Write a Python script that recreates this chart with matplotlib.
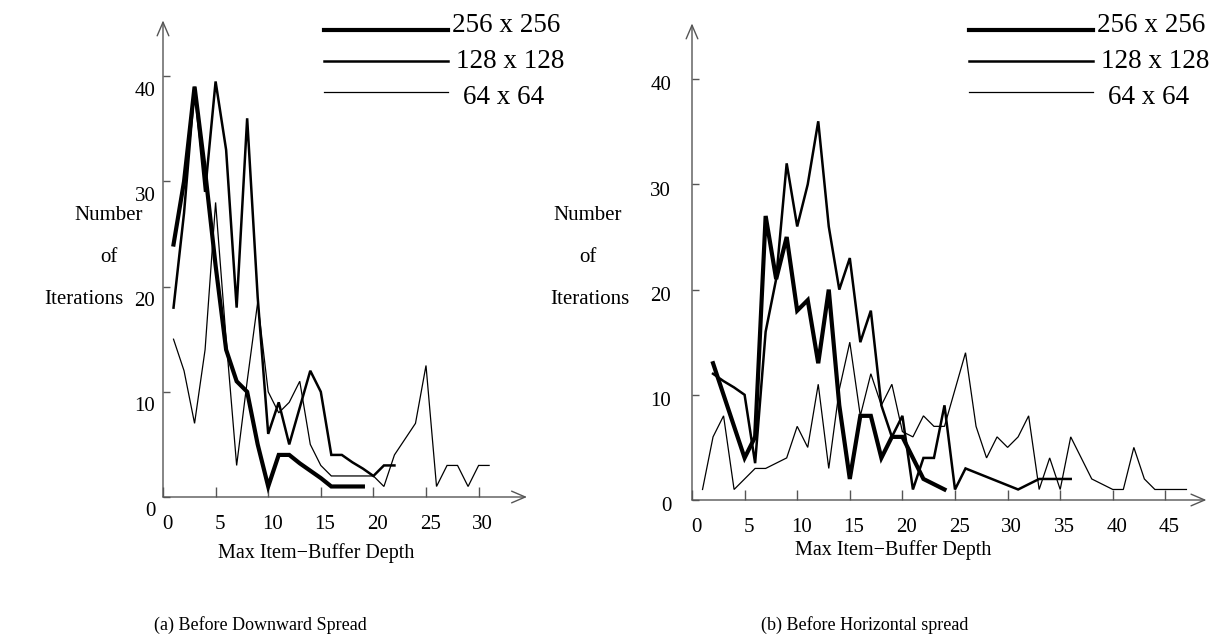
import matplotlib
matplotlib.use("Agg")
import matplotlib.pyplot as plt
from matplotlib.lines import Line2D
from matplotlib.transforms import ScaledTranslation

plt.rcParams['font.family'] = ['Liberation Serif', 'DejaVu Serif']

# (a) Before Downward Spread
x256_a = [1, 2, 3, 4, 5, 6, 7, 8, 9, 10, 11, 12, 13, 14, 15, 16, 17, 18, 19]
y256_a = [24, 30, 39, 31, 22, 14, 11, 10, 5, 1, 4, 4, 3.2, 2.5, 1.8, 1, 1, 1, 1]
x128_a = [1, 2, 3, 4, 5, 6, 7, 8, 9, 10, 11, 12, 13, 14, 15, 16, 17, 18, 19, 20, 21, 22]
y128_a = [18, 27, 39, 29, 39.5, 33, 18, 36, 19, 6, 9, 5, 8.5, 12, 10, 4, 4, 3.3, 2.7, 2, 3, 3]
x64_a = list(range(1, 32))
y64_a = [15, 12, 7, 14, 28, 15, 3, 11, 18.5, 10, 8, 9, 11, 5, 3, 2, 2, 2, 2, 2,
         1, 4, 5.5, 7, 12.5, 1, 3, 3, 1, 3, 3]

# (b) Before Horizontal spread
x256_b = list(range(2, 25))
y256_b = [13, 10, 7, 4, 6, 27, 21, 25, 18, 19, 13, 20, 9, 2, 8, 8, 4, 6, 6, 4, 2, 1.5, 1]
x128_b = list(range(2, 37))
y128_b = [12, 11.3, 10.7, 10, 3.5, 16, 21, 32, 26, 30, 36, 26, 20, 23, 15, 18, 9, 6,
          8, 1, 4, 4, 9, 1, 3, 2.6, 2.2, 1.8, 1.4, 1, 1.5, 2, 2, 2, 2]
x64_b = list(range(1, 48))
y64_b = [1, 6, 8, 1, 2, 3, 3, 3.5, 4, 7, 5, 11, 3, 10.5, 15, 8, 12, 9, 11, 6.5,
         6, 8, 7, 7, 10.5, 14, 7, 4, 6, 5, 6, 8, 1, 4, 1, 6, 4, 2, 1.5, 1,
         1, 5, 2, 1, 1, 1, 1]

labels = ['256 x 256', '128 x 128', '64 x 64']
widths = [3.0, 1.8, 0.9]

yticks = [0, 10, 20, 30, 40]
xticks_a = [0, 5, 10, 15, 20, 25, 30]
xticks_b = [0, 5, 10, 15, 20, 25, 30, 35, 40, 45]

W, H = 1211, 639
scale = 10.52  # pixels per unit, both axes
fig = plt.figure(figsize=(W / 100, H / 100), dpi=100)
axis_col = '#555555'


def make_axes(left, bottom, xmax):
    ax = fig.add_axes([left / W, (H - bottom) / H, xmax * scale / W, 45.5 * scale / H])
    ax.set_xlim(0, xmax)
    ax.set_ylim(0, 45.5)
    for s in ax.spines.values():
        s.set_visible(False)
    return ax


def decorate(ax, xticks, xarrow, ypad, ydrop):
    # axes drawn as arrows
    arrow = dict(arrowstyle='->,head_length=0.7,head_width=0.3', color=axis_col,
                 lw=1, shrinkA=0, shrinkB=0, mutation_scale=14)
    ax.annotate('', xy=(xarrow, 0), xytext=(0, 0), annotation_clip=False, arrowprops=arrow)
    ax.annotate('', xy=(0, 45.3), xytext=(0, 0), annotation_clip=False, arrowprops=arrow)
    ax.set_xticks(xticks)
    ax.set_xticklabels([str(t) for t in xticks])
    ax.set_yticks(yticks)
    ax.set_yticklabels([str(t) for t in yticks])
    ax.tick_params(axis='x', direction='in', length=7, width=1, color=axis_col,
                   labelsize=15, pad=13)
    ax.tick_params(axis='y', direction='in', length=5, width=1, color=axis_col,
                   labelsize=15, pad=ypad)
    # the labels sit a little off their tick marks in the original
    for lab in ax.get_yticklabels():
        lab.set_transform(lab.get_transform() + ScaledTranslation(0, -ydrop / 72, fig.dpi_scale_trans))
    for lab in ax.get_xticklabels():
        lab.set_transform(lab.get_transform() + ScaledTranslation(3 / 72, 0, fig.dpi_scale_trans))


ax1 = make_axes(163, 497, 35)
ax2 = make_axes(692, 500, 49)

for ax, series in [(ax1, [(x256_a, y256_a), (x128_a, y128_a), (x64_a, y64_a)]),
                   (ax2, [(x256_b, y256_b), (x128_b, y128_b), (x64_b, y64_b)])]:
    for (xs, ys), lw in zip(series, widths):
        ax.plot(xs, ys, color='black', lw=lw, solid_joinstyle='miter', clip_on=False)

decorate(ax1, xticks_a, 34.6, 5.5, 9)
decorate(ax2, xticks_b, 48.9, 15, 3)

# legends, drawn by hand
line_y = [30, 61, 92]
text_y = [26, 61.5, 97]
text_x = [452, 456, 463]
for dx in [0, 645]:
    for i, (lab, lw) in enumerate(zip(labels, widths)):
        fig.add_artist(Line2D([(324 + dx) / W, (448 + dx) / W],
                              [1 - line_y[i] / H, 1 - line_y[i] / H],
                              color='black', lw=lw))
        fig.text((text_x[i] + dx) / W, 1 - text_y[i] / H, lab, fontsize=19.5,
                 va='center', ha='left')

# y-axis titles
for cx, cx2 in [(109, 84), (588, 590)]:
    fig.text(cx / W, 1 - 215 / H, 'Number', fontsize=15, ha='center', va='center')
    fig.text(cx / W, 1 - 257 / H, 'of', fontsize=15, ha='center', va='center')
    fig.text(cx2 / W, 1 - 300 / H, 'Iterations', fontsize=15, ha='center', va='center')

fig.text(316 / W, 1 - 553 / H, 'Max Item\u2212Buffer Depth', fontsize=14.5, ha='center', va='center')
fig.text(893 / W, 1 - 550 / H, 'Max Item\u2212Buffer Depth', fontsize=14.5, ha='center', va='center')

fig.text(260 / W, 1 - 625 / H, '(a) Before Downward Spread', fontsize=13, ha='center', va='center')
fig.text(865 / W, 1 - 625 / H, '(b) Before Horizontal spread', fontsize=13, ha='center', va='center')

fig.savefig('out.png', dpi=100)
